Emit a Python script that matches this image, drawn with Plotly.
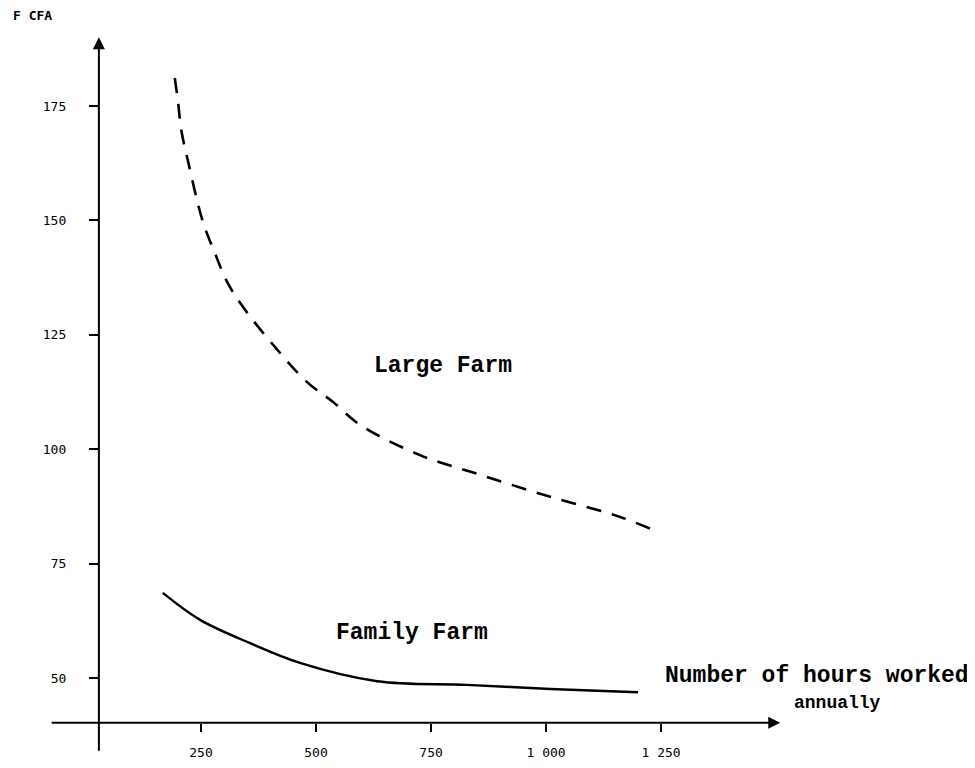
import plotly.graph_objects as go

# Data
large_x = [193, 200, 207, 222, 254, 280, 307, 341, 411, 480, 537, 596, 726, 857, 1009, 1161, 1248]
large_y = [181.1, 175.9, 169.8, 162.8, 149.7, 142.9, 136.5, 131.1, 122.3, 114.7, 110.3, 105.3, 98.7, 94.4, 89.6, 85.2, 81.7]
family_x = [167, 248, 357, 465, 633, 828, 1009, 1200]
family_y = [68.6, 62.7, 57.6, 53.3, 49.3, 48.5, 47.6, 46.9]

x_tickvals = [250, 500, 750, 1000, 1250]
x_ticktext = ["250", "500", "750", "1 000", "1 250"]
y_tickvals = [50, 75, 100, 125, 150, 175]
y_ticktext = ["50", "75", "100", "125", "150", "175"]

X_RANGE = [-100, 1552]
Y_RANGE = [32.08, 191.6]
AXIS_X = 28      # where the vertical axis crosses
AXIS_Y = 40.2    # where the horizontal axis crosses

# plot area in screen pixels (page has an 8px body margin)
PX_L, PX_R, PX_T, PX_B = 40, 800, 30, 760


def paper_x(px):
    return (px - PX_L) / (PX_R - PX_L)


def paper_y(py):
    return (PX_B - py) / (PX_B - PX_T)


fig = go.Figure()
fig.add_trace(go.Scatter(x=large_x, y=large_y, mode="lines",
                         line=dict(color="black", width=2.6, dash="15px,11px", shape="spline"),
                         showlegend=False, hoverinfo="skip"))
fig.add_trace(go.Scatter(x=family_x, y=family_y, mode="lines",
                         line=dict(color="black", width=2.4, shape="spline"),
                         showlegend=False, hoverinfo="skip"))

mono = "Liberation Mono"
tickmono = "DejaVu Sans Mono"
annotations = [
    dict(x=AXIS_X, y=190, ax=AXIS_X, ay=33.8, xref="x", yref="y", axref="x", ayref="y",
         showarrow=True, arrowhead=2, arrowsize=1.2, arrowwidth=2, arrowcolor="black", text=""),
    dict(x=1509, y=AXIS_Y, ax=-78, ay=AXIS_Y, xref="x", yref="y", axref="x", ayref="y",
         showarrow=True, arrowhead=2, arrowsize=1.2, arrowwidth=2, arrowcolor="black", text=""),
    dict(x=776, y=118.2, xref="x", yref="y", text="<b>Large Farm</b>", showarrow=False,
         xanchor="center", yanchor="middle",
         font=dict(family=mono, size=23, color="black")),
    dict(x=709, y=59.8, xref="x", yref="y", text="<b>Family Farm</b>", showarrow=False,
         xanchor="center", yanchor="middle",
         font=dict(family=mono, size=23, color="black")),
    dict(x=paper_x(817), y=paper_y(676), xref="paper", yref="paper",
         text="<b>Number of hours worked</b>", showarrow=False,
         xanchor="center", yanchor="middle",
         font=dict(family=mono, size=23, color="black")),
    dict(x=paper_x(837), y=paper_y(703), xref="paper", yref="paper",
         text="<b>annually</b>", showarrow=False,
         xanchor="center", yanchor="middle",
         font=dict(family=mono, size=18, color="black")),
    dict(x=paper_x(11), y=paper_y(16), xref="paper", yref="paper", text="<b>F CFA</b>",
         showarrow=False, xanchor="left", yanchor="middle",
         font=dict(family=tickmono, size=13, color="black")),
]

fig.update_layout(
    width=975, height=768,
    margin=dict(l=PX_L - 8, r=975 - (PX_R - 8), t=PX_T - 8, b=768 - (PX_B - 8)),
    paper_bgcolor="white", plot_bgcolor="white",
    annotations=annotations,
    xaxis=dict(range=X_RANGE, showgrid=False, zeroline=False, showline=False,
               anchor="free", position=(AXIS_Y - Y_RANGE[0]) / (Y_RANGE[1] - Y_RANGE[0]),
               tickvals=x_tickvals, ticktext=x_ticktext, ticks="outside", ticklen=8,
               tickwidth=1.5, tickcolor="black", ticklabelstandoff=10,
               tickfont=dict(family=tickmono, size=13, color="black")),
    yaxis=dict(range=Y_RANGE, showgrid=False, zeroline=False, showline=False,
               anchor="free", position=(AXIS_X - X_RANGE[0]) / (X_RANGE[1] - X_RANGE[0]),
               tickvals=y_tickvals, ticktext=y_ticktext, ticks="outside", ticklen=10,
               tickwidth=2, tickcolor="black", ticklabelstandoff=20,
               tickfont=dict(family=tickmono, size=13, color="black")),
)

fig.write_html("out.html")
